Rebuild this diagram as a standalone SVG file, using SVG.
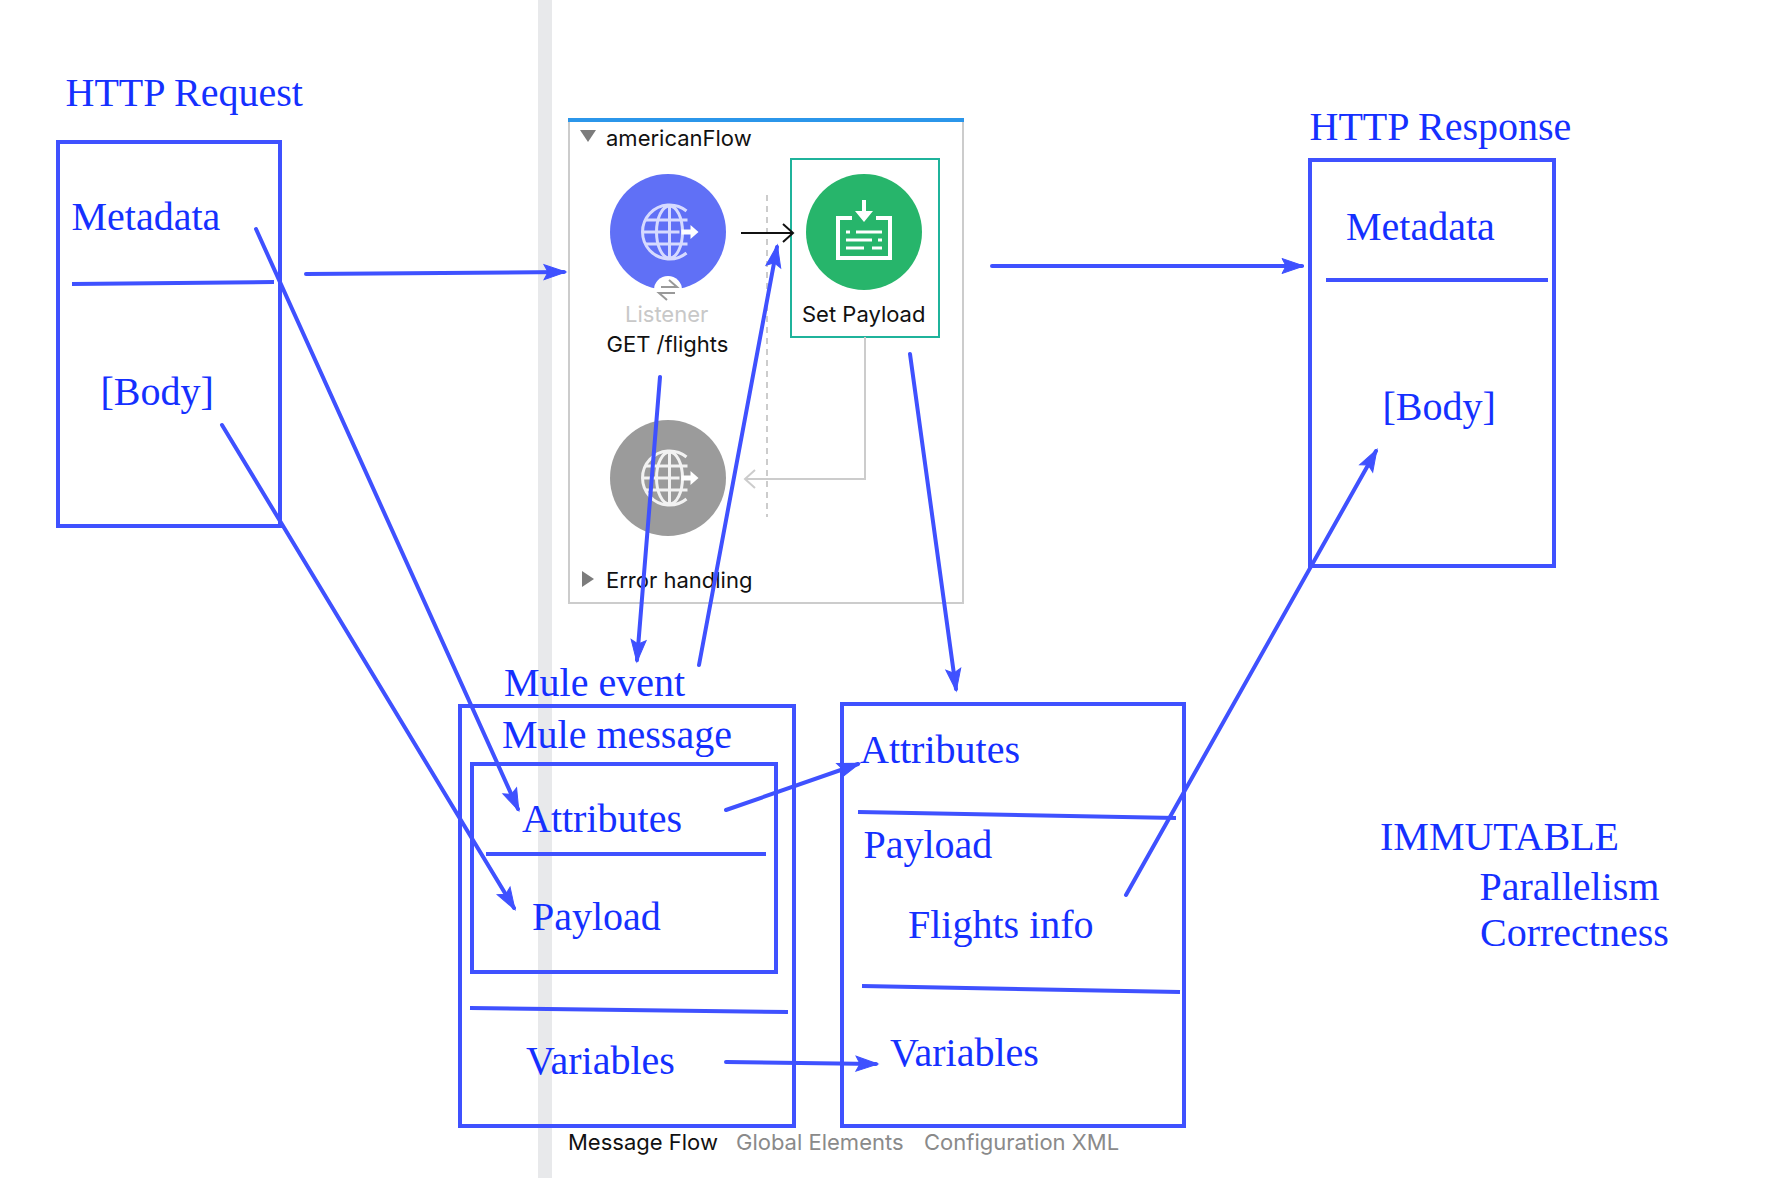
<svg xmlns="http://www.w3.org/2000/svg" width="1780" height="1178" viewBox="0 0 1780 1178">
<style>
.hand{font-family:"Liberation Serif","Times New Roman",serif;font-size:40px;fill:#1530ff}
.ui{font-family:Inter,"Liberation Sans",sans-serif;font-size:22px;fill:#111}
.box{fill:none;stroke:#3f51ff;stroke-width:4}
.rule{fill:none;stroke:#3f51ff;stroke-width:4}
.ink{fill:none;stroke:#3f51ff;stroke-width:4;stroke-linecap:round;marker-end:url(#inkHead)}
.tab{fill:#8a8a8a}
.glyph{fill:none;stroke-width:3}
</style>
<defs>
<marker id="inkHead" markerUnits="userSpaceOnUse" markerWidth="30" markerHeight="20" refX="24" refY="10" orient="auto">
<path d="M26,10 L4,2.5 L8,10 L4,17.5 Z" fill="#3f51ff" stroke="#3f51ff" stroke-width="1"/>
</marker>
<marker id="blackHead" markerUnits="userSpaceOnUse" markerWidth="20" markerHeight="24" refX="12" refY="10" orient="auto">
<path d="M2,1 L12,10 L2,19" fill="none" stroke="#111" stroke-width="2"/>
</marker>
<marker id="grayHead" markerUnits="userSpaceOnUse" markerWidth="20" markerHeight="24" refX="12" refY="10" orient="auto">
<path d="M2,1 L12,10 L2,19" fill="none" stroke="#ccc" stroke-width="2"/>
</marker>
<g id="globe">
<path d="M17,-21 A27,27 0 1 0 17,21" class="glyph"/>
<ellipse cx="0" cy="0" rx="13" ry="26" class="glyph"/>
<path d="M0,-26 V26 M-24,-12 H18 M-27,0 H10 M-24,12 H18" class="glyph"/>
<path d="M12,-2.5 H21 V-7 L29,0 L21,7 V2.5 H12 Z" stroke="none" fill="#fff"/>
</g>
</defs>
<rect width="1780" height="1178" fill="#fff"/>
<rect x="538" y="0" width="14" height="1178" fill="#e8e9eb"/>

<g id="http-request">
<text class="hand" x="65.5" y="106">HTTP Request</text>
<rect class="box" x="58" y="142" width="222" height="384"/>
<text class="hand" x="71.5" y="230">Metadata</text>
<path class="rule" d="M72,284 L274,282"/>
<text class="hand" x="100.5" y="405">[Body]</text>
</g>

<g id="american-flow">
<rect x="569" y="120" width="394" height="483" fill="#fff" stroke="#ccc" stroke-width="2"/>
<rect x="568" y="118" width="396" height="4" fill="#2b96ea"/>
<path d="M580,130 H596 L588,142 Z" fill="#7c7c7c"/>
<text class="ui" x="606" y="146">americanFlow</text>
<path d="M582,571 L594,579 L582,587 Z" fill="#7c7c7c"/>
<text class="ui" x="606" y="588">Error handling</text>
<path d="M767,195 V517" stroke="#ccc" stroke-width="2" stroke-dasharray="6 5" fill="none"/>
</g>

<g id="listener">
<circle cx="668" cy="232" r="58" fill="#6070f6"/>
<use href="#globe" x="669.5" y="232" stroke="#d6daff"/>
<circle cx="668" cy="290" r="14" fill="#fff"/>
<path d="M661,287 H677 L669,280 M675,293 H659 L667,300" fill="none" stroke="#999" stroke-width="2"/>
<text class="ui" x="625" y="322" style="fill:#c8c8c8">Listener</text>
<text class="ui" x="606.5" y="352">GET /flights</text>
</g>

<g id="set-payload">
<rect x="791" y="159" width="148" height="178" fill="none" stroke="#1fb39b" stroke-width="2"/>
<circle cx="864" cy="232" r="58" fill="#27b56b"/>
<path d="M852,218 H838 V258 H890 V218 H876" fill="none" stroke="#fff" stroke-width="4"/>
<path d="M862,200 H866 V211 H873 L864,222 L855,211 H862 Z" fill="#fff"/>
<path d="M846,232 H850 M856,232 H882 M846,240 H872 M878,240 H882 M846,248 H864 M872,248 H882" fill="none" stroke="#fff" stroke-width="3"/>
<text class="ui" x="802" y="322">Set Payload</text>
</g>

<g id="error-response">
<circle cx="668" cy="478" r="58" fill="#9b9b9b"/>
<use href="#globe" x="669.5" y="478" stroke="#f2f2f2"/>
</g>

<g id="mule-event">
<text class="hand" x="504" y="696">Mule event</text>
<rect class="box" x="460" y="706" width="334" height="420"/>
<text class="hand" x="502" y="748">Mule message</text>
<rect class="box" x="472" y="764" width="304" height="208"/>
<text class="hand" x="522" y="832">Attributes</text>
<path class="rule" d="M486,854 H766"/>
<text class="hand" x="532" y="930">Payload</text>
<path class="rule" d="M470,1008 L788,1012"/>
<text class="hand" x="526" y="1074">Variables</text>
</g>

<g id="output-event">
<rect class="box" x="842" y="704" width="342" height="422"/>
<text class="hand" x="860" y="762.5">Attributes</text>
<path class="rule" d="M858,812 L1176,818"/>
<text class="hand" x="863.5" y="857.5">Payload</text>
<text class="hand" x="908" y="938">Flights info</text>
<path class="rule" d="M862,986 L1180,992"/>
<text class="hand" x="890" y="1066">Variables</text>
</g>

<g id="http-response">
<text class="hand" x="1309.5" y="140">HTTP Response</text>
<rect class="box" x="1310" y="160" width="244" height="406"/>
<text class="hand" x="1346" y="240">Metadata</text>
<path class="rule" d="M1326,280 H1548"/>
<text class="hand" x="1382.5" y="420">[Body]</text>
</g>

<g id="notes">
<text class="hand" x="1380" y="850">IMMUTABLE</text>
<text class="hand" x="1479.5" y="900">Parallelism</text>
<text class="hand" x="1480" y="946">Correctness</text>
</g>

<g id="tabs">
<text class="ui" x="568" y="1150">Message Flow</text>
<text class="ui tab" x="736" y="1150">Global Elements</text>
<text class="ui tab" x="924" y="1150">Configuration XML</text>
</g>

<g id="connectors">
<path d="M741,233 H793" fill="none" stroke="#111" stroke-width="2" marker-end="url(#blackHead)"/>
<path d="M865,337 V479 H745" fill="none" stroke="#ccc" stroke-width="2" marker-end="url(#grayHead)"/>
<path class="ink" d="M306,274 L564,272"/>
<path class="ink" d="M992,266 L1302,266"/>
<path class="ink" d="M256,229 L518,809"/>
<path class="ink" d="M222,425 L514,908"/>
<path class="ink" d="M660,377 L637,660"/>
<path class="ink" d="M699,665 L777,247"/>
<path class="ink" d="M910,354 L956,689"/>
<path class="ink" d="M726,810 L858,764"/>
<path class="ink" d="M726,1062 L876,1064"/>
<path class="ink" d="M1126,895 L1376,451"/>
</g>
</svg>
